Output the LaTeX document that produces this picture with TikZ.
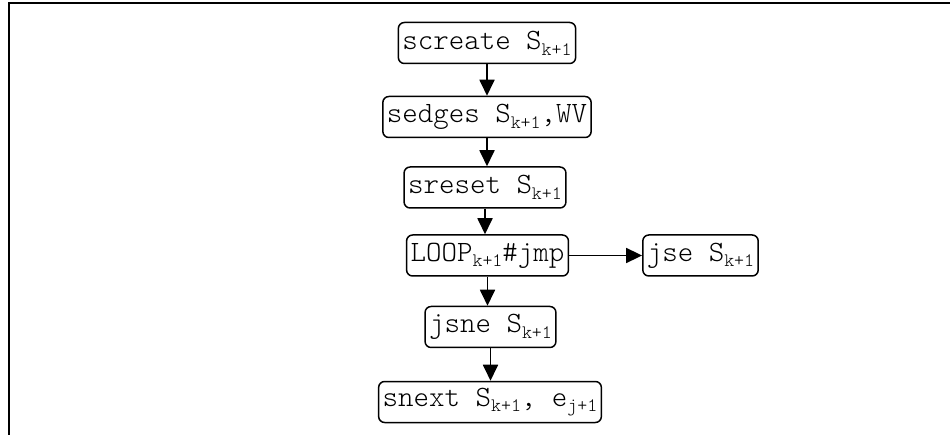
\documentclass[tikz,border=0pt]{standalone}
\usepackage{fontspec}
\newfontfamily\courlt{Latin Modern Mono Light}
\usetikzlibrary{arrows.meta}
\newcommand\mysub[1]{\raisebox{-0.45ex}{\fontsize{19}{19}\selectfont #1}}
\tikzset{
  box/.style={draw, line width=1.5pt, rounded corners=6pt, inner xsep=4pt, inner ysep=0pt,
    minimum height=41pt, anchor=center, font=\courlt\fontsize{29.5}{32}\selectfont},
  arr/.style={line width=1.8pt, -{Triangle[width=15pt,length=16pt]}},
  frame/.style={line width=2pt}
}
\begin{document}
\begin{tikzpicture}[x=1pt,y=-1pt]
\useasboundingbox (0,0) rectangle (950,435);
\coordinate (ftl) at (8.5,3.5);
\coordinate (ftr) at (950,3.5);
\coordinate (fbl) at (8.5,435);
\draw[frame] (ftr) -- (ftl) -- (fbl);
\node[box] (screate) at (487,43) {screate S\mysub{k+1}};
\node[box] (sedges) at (487,117) {sedges S\mysub{k+1},WV};
\node[box] (sreset) at (485,187.5) {sreset S\mysub{k+1}};
\node[box] (loop) at (487.5,255.5) {LOOP\mysub{k+1}\#jmp};
\node[box] (jse) at (700.5,255.5) {jse S\mysub{k+1}};
\node[box] (jsne) at (490.5,327) {jsne S\mysub{k+1}};
\node[box] (snext) at (490,402) {snext S\mysub{k+1}, e\mysub{j+1}};
\draw[arr] (screate.south) -- (screate.south |- sedges.north);
\draw[arr] (sedges.south) -- (sedges.south |- sreset.north);
\draw[arr] (sreset.south) -- (sreset.south |- loop.north);
\draw[arr] (loop.south) -- (loop.south |- jsne.north);
\draw[arr] (jsne.south) -- (jsne.south |- snext.north);
\draw[arr] (loop.east) -- (jse.west);
\end{tikzpicture}
\end{document}
